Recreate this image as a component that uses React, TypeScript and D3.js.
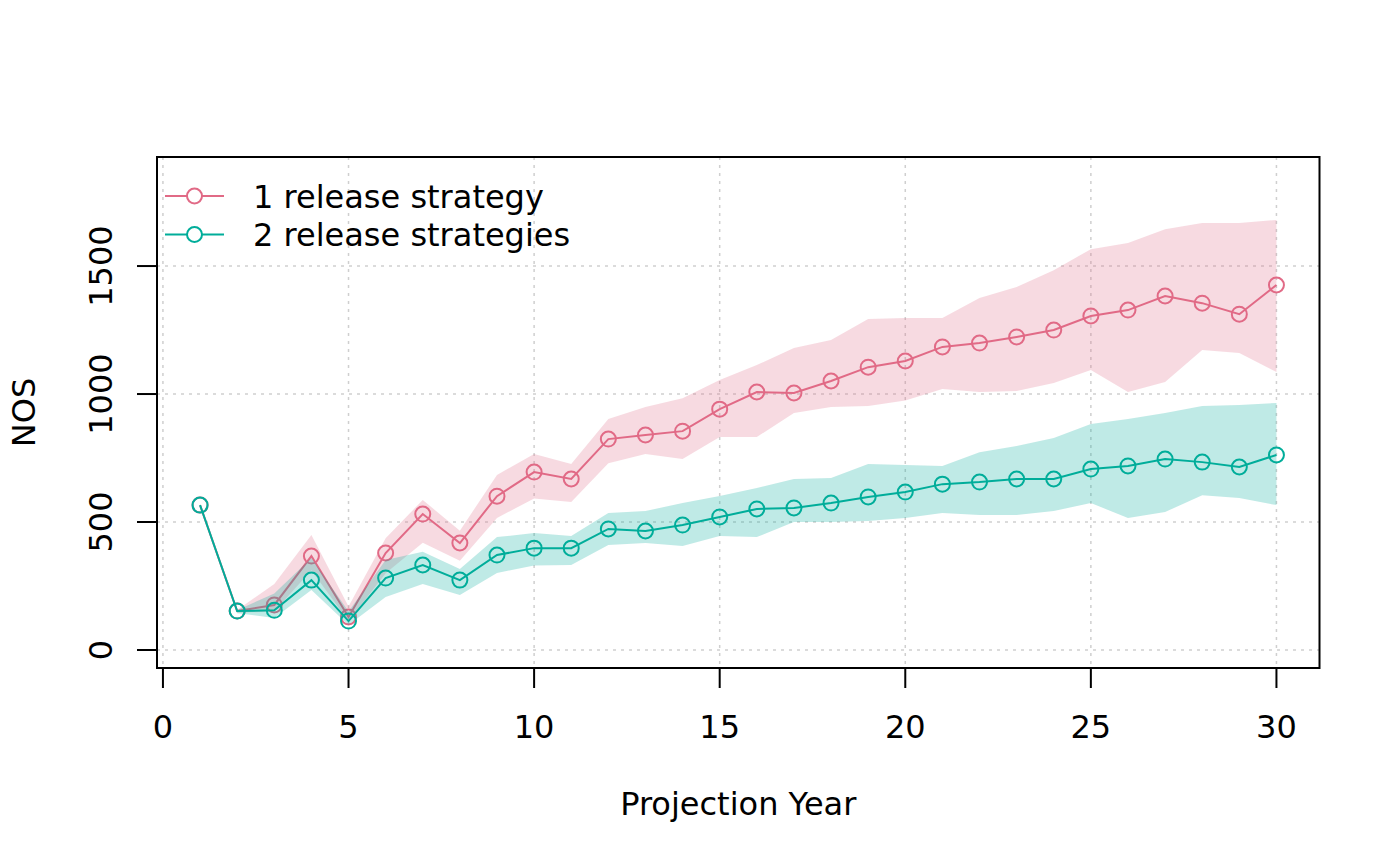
import React from "react";
import * as d3 from "d3";

const years = d3.range(1, 31);
const series1 = [566, 152, 176, 367, 129, 379, 531, 418, 601, 695, 668, 824, 840, 855, 941, 1008, 1004, 1051, 1105, 1129, 1184, 1199, 1223, 1250, 1305, 1328, 1383, 1355, 1312, 1426];
const series2 = [566, 152, 155, 273, 113, 281, 332, 273, 371, 398, 398, 473, 465, 488, 520, 551, 555, 574, 598, 617, 648, 656, 668, 668, 707, 719, 746, 734, 715, 762];
// band years 2..30
const bandYears = d3.range(2, 31);
const upper1 = [156, 258, 449, 170, 437, 586, 466, 684, 766, 727, 902, 949, 984, 1055, 1113, 1180, 1211, 1293, 1297, 1297, 1375, 1418, 1484, 1566, 1590, 1644, 1668, 1668, 1680];
const lower1 = [146, 150, 312, 112, 300, 419, 349, 516, 592, 578, 730, 766, 746, 832, 832, 926, 949, 953, 975, 1020, 1008, 1012, 1043, 1094, 1008, 1047, 1172, 1160, 1086];
const upper2 = [156, 221, 359, 150, 352, 384, 316, 441, 457, 445, 535, 543, 574, 602, 633, 668, 672, 727, 723, 719, 773, 797, 828, 883, 902, 926, 953, 957, 965];
const lower2 = [144, 125, 234, 98, 207, 258, 215, 301, 330, 332, 410, 418, 406, 445, 441, 500, 500, 504, 516, 535, 527, 527, 543, 574, 516, 539, 605, 594, 566];
const xTicks = [0, 5, 10, 15, 20, 25, 30];
const yTicks = [0, 500, 1000, 1500];
const legendLabels = ["1 release strategy", "2 release strategies"];
const colors = ["#E16A86", "#00AD9A"];

if (typeof document !== "undefined") document.body.style.margin = "0";

export default function App() {
  const W = 1400, H = 865;
  const left = 157, right = 1319.5, top = 157, bottom = 668;
  const x = d3.scaleLinear().domain([-0.16, 31.16]).range([left, right]);
  const y = d3.scaleLinear().domain([-70.3, 1926]).range([bottom, top]);
  const font = "'DejaVu Sans', sans-serif";
  const fs = 32;

  const band = (up: number[], lo: number[]) =>
    d3
      .area<number>()
      .x((_, i) => x(bandYears[i]))
      .y0((_, i) => y(lo[i]))
      .y1((_, i) => y(up[i]))(up) || "";

  const line = (vals: number[]) =>
    d3
      .line<number>()
      .x((_, i) => x(years[i]))
      .y((d) => y(d))(vals) || "";

  const bands = [
    { up: upper1, lo: lower1 },
    { up: upper2, lo: lower2 },
  ];
  const vals = [series1, series2];

  return (
    <svg width={W} height={H} style={{ display: "block", background: "#fff" }}>
      {/* grid */}
      {xTicks.map((t) => (
        <line key={"gx" + t} x1={x(t)} x2={x(t)} y1={top} y2={bottom} stroke="#cfcfcf" strokeWidth={1.5} strokeDasharray="3 5" />
      ))}
      {yTicks.map((t) => (
        <line key={"gy" + t} x1={left} x2={right} y1={y(t)} y2={y(t)} stroke="#cfcfcf" strokeWidth={1.5} strokeDasharray="3 5" />
      ))}
      {/* series */}
      {[0, 1].map((k) => (
        <g key={"s" + k}>
          <path d={band(bands[k].up, bands[k].lo)} fill={colors[k]} fillOpacity={0.25} stroke="none" />
          <path d={line(vals[k])} fill="none" stroke={colors[k]} strokeWidth={2} />
          {vals[k].map((v, i) => (
            <circle key={i} cx={x(years[i])} cy={y(v)} r={7.5} fill="none" stroke={colors[k]} strokeWidth={2} />
          ))}
        </g>
      ))}
      {/* box */}
      <rect x={left} y={top} width={right - left} height={bottom - top} fill="none" stroke="#000" strokeWidth={2} />
      {/* x axis */}
      <line x1={x(0)} x2={x(30)} y1={bottom} y2={bottom} stroke="#000" strokeWidth={2} />
      {xTicks.map((t) => (
        <g key={"xt" + t}>
          <line x1={x(t)} x2={x(t)} y1={bottom} y2={bottom + 20} stroke="#000" strokeWidth={2} />
          <text x={x(t)} y={738} textAnchor="middle" fontFamily={font} fontSize={fs}>{t}</text>
        </g>
      ))}
      {/* y axis */}
      {yTicks.map((t) => (
        <g key={"yt" + t}>
          <line x1={left - 20} x2={left} y1={y(t)} y2={y(t)} stroke="#000" strokeWidth={2} />
          <text transform={`translate(112,${y(t)}) rotate(-90)`} textAnchor="middle" fontFamily={font} fontSize={fs}>{t}</text>
        </g>
      ))}
      <text x={(left + right) / 2} y={815} textAnchor="middle" fontFamily={font} fontSize={fs}>Projection Year</text>
      <text transform={`translate(35,${(top + bottom) / 2}) rotate(-90)`} textAnchor="middle" fontFamily={font} fontSize={fs}>NOS</text>
      {/* legend */}
      {legendLabels.map((lab, i) => {
        const ly = 196 + i * 38.5;
        return (
          <g key={"lg" + i}>
            <line x1={165} x2={224} y1={ly} y2={ly} stroke={colors[i]} strokeWidth={2} />
            <circle cx={194.5} cy={ly} r={7.5} fill="#fff" stroke={colors[i]} strokeWidth={2} />
            <text x={253} y={ly + 11.5} fontFamily={font} fontSize={fs}>{lab}</text>
          </g>
        );
      })}
    </svg>
  );
}
